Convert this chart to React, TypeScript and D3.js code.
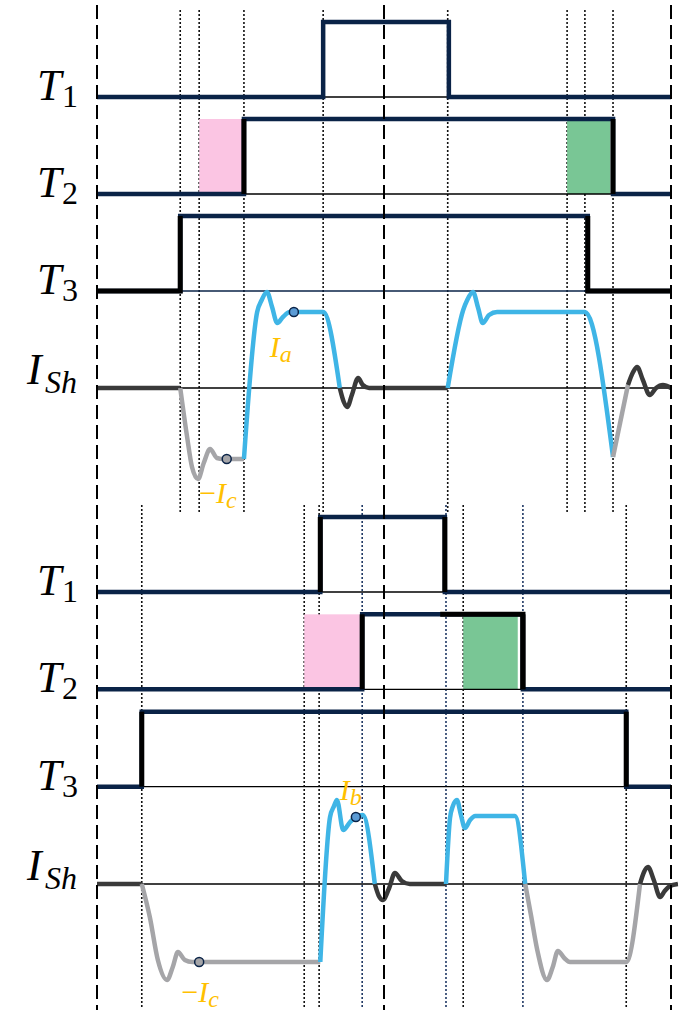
import React, { useEffect, useRef } from "react";
import * as d3 from "d3";

// time in % of the shown window, 50 = centre dashed line
const periodMarks = [0, 50, 100];
const rowKeys = ["T1", "T2", "T3", "ISh"];
const rowMain = ["T", "T", "T", "I"];
const rowSub = ["1", "2", "3", "Sh"];

// ---------- upper case ----------
const upperDots = [14.5, 17.8, 25.6, 39.4, 61.1, 81.9, 85.0, 89.9];
const upperT1 = [39.4, 61.3];
const upperT2 = [25.6, 89.9];
const upperT3 = [14.5, 85.5];
const upperPink = [17.8, 25.6];
const upperGreen = [81.9, 89.4];

const upperIdleA = [[0, 0], [14.5, 0]];
const upperNegA = [[14.5, 0], [15.7, -4.9], [16.55, -7.9], [17.6, -9.1], [18.6, -7.5], [19.7, -6.1], [20.9, -7.0], [21.95, -7.1], [22.6, -7.1], [25.6, -7.1]];
const upperPosA = [[25.6, -7.1], [27.9, 7.6], [28.7, 8.8], [29.6, 9.6], [30.5, 8.1], [31.4, 6.5], [32.4, 7.1], [33.6, 7.6], [39.4, 7.6], [42.3, 0]];
const upperIdleB = [[42.3, 0], [43.0, -1.4], [43.6, -1.9], [44.4, -0.7], [45.5, 1.0], [46.3, 0.3], [47.4, 0], [61.1, 0]];
const upperPosB = [[61.1, 0], [63.8, 7.8], [64.5, 8.8], [65.5, 9.6], [66.4, 8.0], [67.2, 6.5], [68.3, 7.3], [69.7, 7.6], [85.0, 7.6], [89.9, -6.9]];
const upperNegB = [[89.9, -6.9], [92.5, 0.3]];
const upperIdleC = [[92.5, 0.3], [93.4, 1.6], [94.1, 2.1], [95.1, 0.8], [96.3, -0.7], [97.4, 0], [98.6, 0.3], [100, 0]];

const upperMarks = [{ t: 22.6, v: -7.1, kind: "neg" }, { t: 34.3, v: 7.6, kind: "pos" }];
const upperNotes = [
  { t: 30.1, v: 3.1, minus: false, sub: "a" },
  { t: 17.8, v: -11.5, minus: true, sub: "c" },
];

// ---------- lower case ----------
const lowerDots = [7.8, 36.1, 38.7, 46.2, 60.8, 63.8, 74.2, 92.2];
const lowerBlueDots = [46.2, 60.8, 74.2];
const lowerT1 = [38.9, 60.6];
const lowerT2 = [46.2, 74.2];
const lowerT2Hard = 59.8;
const lowerT3 = [7.8, 92.2];
const lowerPink = [36.1, 45.8];
const lowerGreen = [63.8, 73.3];

const lowerIdleA = [[0, 0], [7.8, 0]];
const lowerNegA = [[7.8, 0], [9.2, -3.3], [10.6, -7.6], [12.2, -9.6], [13.2, -8.3], [14.1, -6.8], [15.3, -7.6], [16.6, -7.8], [38.9, -7.8]];
const lowerPosA = [[38.9, -7.8], [40.6, 6.7], [41.3, 7.8], [41.8, 8.4], [42.9, 5.4], [44.1, 6.2], [45.1, 6.7], [46.3, 6.9], [48.4, 0]];
const lowerIdleB = [[48.4, 0], [49.1, -1.2], [49.8, -1.6], [50.9, -0.4], [51.9, 1.1], [53.1, 0.3], [54.5, 0], [60.8, 0]];
const lowerPosB = [[60.8, 0], [61.5, 6.6], [62.0, 7.8], [62.7, 8.4], [63.4, 6.9], [64.1, 5.6], [65.0, 6.4], [65.9, 6.8], [72.8, 6.8], [74.6, 0]];
const lowerNegB = [[74.6, 0], [75.6, -3.1], [76.7, -6.6], [78.4, -9.6], [79.4, -8.3], [80.3, -6.7], [81.4, -7.4], [82.4, -7.8], [92.2, -7.8], [94.6, 0]];
const lowerIdleC = [[94.6, 0], [95.3, 1.2], [96.0, 1.7], [97.0, 0.4], [98.1, -1.3], [98.9, -0.7], [99.8, -0.2], [101.2, 0]];

const lowerMarks = [{ t: 17.8, v: -7.8, kind: "neg" }, { t: 45.1, v: 6.7, kind: "pos" }];
const lowerNotes = [
  { t: 42.3, v: 8.4, minus: false, sub: "b" },
  { t: 14.7, v: -11.8, minus: true, sub: "c" },
];

const NAVY = "#0a2347";
const BLUE = "#3fb5e6";
const GREY = "#a5a5a8";
const DARK = "#3a3a3a";
const GOLD = "#ffc000";
const FONT = "Liberation Serif";

export default function App() {
  const ref = useRef<SVGSVGElement>(null);

  useEffect(() => {
    const svg = d3.select(ref.current);
    svg.selectAll("*").remove();

    const x = d3.scaleLinear().domain([0, 100]).range([97, 671]);

    const panels = [
      {
        rows: [97, 388], dots: [10, 513], dotList: upperDots, blueDots: [],
        t1: upperT1, t2: upperT2, t3: upperT3, pink: upperPink, green: upperGreen,
        segs: [
          { kind: "idle", pts: upperIdleA }, { kind: "neg", pts: upperNegA }, { kind: "pos", pts: upperPosA },
          { kind: "idle", pts: upperIdleB }, { kind: "pos", pts: upperPosB }, { kind: "neg", pts: upperNegB },
          { kind: "idle", pts: upperIdleC },
        ],
        zeroEnd: 100, marks: upperMarks, notes: upperNotes, upper: true,
      },
      {
        rows: [592, 884], dots: [505, 1008], dotList: lowerDots, blueDots: lowerBlueDots,
        t1: lowerT1, t2: lowerT2, t3: lowerT3, pink: lowerPink, green: lowerGreen,
        segs: [
          { kind: "idle", pts: lowerIdleA }, { kind: "neg", pts: lowerNegA }, { kind: "pos", pts: lowerPosA },
          { kind: "idle", pts: lowerIdleB }, { kind: "pos", pts: lowerPosB }, { kind: "neg", pts: lowerNegB },
          { kind: "idle", pts: lowerIdleC },
        ],
        zeroEnd: 101.2, marks: lowerMarks, notes: lowerNotes, upper: false,
      },
    ];

    const segColor = (k: string) => (k === "pos" ? BLUE : k === "neg" ? GREY : DARK);

    // dotted switching instants
    panels.forEach((p) => {
      svg.append("g")
        .selectAll("line")
        .data(p.dotList)
        .enter()
        .append("line")
        .attr("x1", (d) => x(d)).attr("x2", (d) => x(d))
        .attr("y1", p.dots[0]).attr("y2", p.dots[1])
        .attr("stroke", (d) => (p.blueDots.includes(d) ? "#1f3864" : "#111"))
        .attr("stroke-width", 1.6)
        .attr("stroke-dasharray", "2,2");
    });

    panels.forEach((p) => {
      const g = svg.append("g");
      const row = d3.scalePoint<string>().domain(rowKeys).range(p.rows);
      const lvl = (k: string) => d3.scaleLinear().domain([0, 1]).range([row(k)!, row(k)! - 75]);
      const cur = d3.scaleLinear().domain([-10, 10]).range([row("ISh")! + 100, row("ISh")! - 100]);

      // shaded intervals on T2
      const y2 = lvl("T2");
      g.append("rect")
        .attr("x", x(p.pink[0])).attr("width", x(p.pink[1]) - x(p.pink[0]))
        .attr("y", y2(1)).attr("height", y2(0) - y2(1))
        .attr("fill", "#fbc5e3");
      g.append("rect")
        .attr("x", x(p.green[0])).attr("width", x(p.green[1]) - x(p.green[0]))
        .attr("y", y2(1)).attr("height", y2(0) - y2(1))
        .attr("fill", "#79c695");

      const pulse = (k: string, e: number[], opt: any) => {
        const y = lvl(k);
        const line = d3.line<number[]>().x((d) => x(d[0])).y((d) => y(d[1]));
        g.append("line")
          .attr("x1", x(e[0])).attr("x2", x(e[1]))
          .attr("y1", y(0)).attr("y2", y(0))
          .attr("stroke", opt.thin || "#000").attr("stroke-width", 1.4);
        g.append("path")
          .attr("d", line([[0, 0], [e[0], 0], [e[0], 1], [e[1], 1], [e[1], 0], [100, 0]]))
          .attr("fill", "none").attr("stroke", NAVY).attr("stroke-width", 4.5);
        const black = (pts: number[][]) =>
          g.append("path").attr("d", line(pts)).attr("fill", "none")
            .attr("stroke", "#000").attr("stroke-width", 5);
        if (opt.rise) black(opt.lowL ? [[0, 0], [e[0], 0], [e[0], 1]] : [[e[0], 0], [e[0], 1]]);
        if (opt.fall) black(opt.lowR ? [[e[1], 1], [e[1], 0], [100, 0]] : [[e[1], 1], [e[1], 0]]);
        if (opt.hard != null) black([[opt.hard, 1], [e[1], 1], [e[1], 0]]);
      };

      if (p.upper) {
        pulse("T1", p.t1, {});
        pulse("T2", p.t2, { rise: true, fall: true });
        pulse("T3", p.t3, { rise: true, fall: true, lowL: true, lowR: true, thin: NAVY });
      } else {
        pulse("T1", p.t1, { rise: true, fall: true });
        pulse("T2", p.t2, { rise: true, fall: true, hard: lowerT2Hard });
        pulse("T3", p.t3, { rise: true, fall: true });
      }

      // shunt current
      g.append("line")
        .attr("x1", x(p.t3[0])).attr("x2", x(p.zeroEnd))
        .attr("y1", cur(0)).attr("y2", cur(0))
        .attr("stroke", "#000").attr("stroke-width", 1.6);
      const curve = d3.line<number[]>().x((d) => x(d[0])).y((d) => cur(d[1])).curve(d3.curveMonotoneX);
      g.selectAll("path.seg")
        .data(p.segs)
        .enter()
        .append("path")
        .attr("class", "seg")
        .attr("d", (d) => curve(d.pts))
        .attr("fill", "none")
        .attr("stroke", (d) => segColor(d.kind))
        .attr("stroke-width", 4.5)
        .attr("stroke-linejoin", "round");
      g.selectAll("circle")
        .data(p.marks)
        .enter()
        .append("circle")
        .attr("cx", (d) => x(d.t)).attr("cy", (d) => cur(d.v))
        .attr("r", 4.5)
        .attr("fill", (d) => (d.kind === "pos" ? "#5b9bd5" : GREY))
        .attr("stroke", NAVY).attr("stroke-width", 1.5);

      // gold notes
      p.notes.forEach((n) => {
        const t = g.append("text")
          .attr("x", x(n.t)).attr("y", cur(n.v))
          .attr("font-family", FONT).attr("font-size", 30).attr("fill", GOLD);
        if (n.minus) t.append("tspan").text("\u2212");
        t.append("tspan").attr("font-style", "italic").text("I");
        t.append("tspan").attr("font-style", "italic").attr("font-size", 24).attr("dy", 5).text(n.sub);
      });

      // row labels
      rowKeys.forEach((k, i) => {
        const isCur = k === "ISh";
        g.append("text")
          .attr("x", isCur ? 27 : 37).attr("y", row(k)! + (isCur ? -4 : 3))
          .attr("font-family", FONT).attr("font-style", "italic").attr("font-size", 44)
          .text(rowMain[i]);
        g.append("text")
          .attr("x", isCur ? 45 : 62).attr("y", row(k)! + (isCur ? 5 : 10))
          .attr("font-family", FONT).attr("font-style", isCur ? "italic" : "normal").attr("font-size", 32)
          .text(rowSub[i]);
      });
    });

    // period boundaries
    svg.append("g")
      .selectAll("line")
      .data(periodMarks)
      .enter()
      .append("line")
      .attr("x1", (d) => x(d)).attr("x2", (d) => x(d))
      .attr("y1", 5).attr("y2", 1010)
      .attr("stroke", "#000").attr("stroke-width", 2)
      .attr("stroke-dasharray", "14,6");
  }, []);

  return (
    <svg
      ref={ref}
      width={687}
      height={1014}
      style={{ position: "absolute", left: 0, top: 0, background: "#fff" }}
    />
  );
}
